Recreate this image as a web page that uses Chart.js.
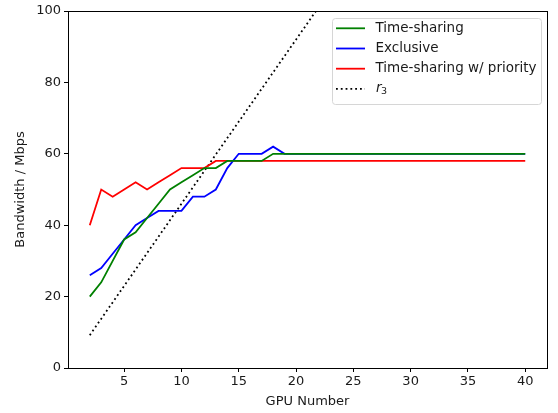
<!DOCTYPE html>
<html>
<head>
<meta charset="utf-8">
<script src="https://cdn.jsdelivr.net/npm/chart.js@4/dist/chart.umd.min.js"></script>
<style>
  html, body { margin: 0; padding: 0; background: #fff; }
</style>
</head>
<body>
<canvas id="grafico" width="558" height="413"></canvas>
<script>
  // dados
  const gpus = [2, 3, 4, 5, 6, 7, 8, 9, 10, 11, 12, 13, 14, 15, 16, 17, 18, 19, 20, 21,
    22, 23, 24, 25, 26, 27, 28, 29, 30, 31, 32, 33, 34, 35, 36, 37, 38, 39, 40];
  const timeSharing = [20, 24, 30, 36, 38, 42, 46, 50, 52, 54, 56, 56, 58, 58, 58, 58, 60, 60, 60, 60,
    60, 60, 60, 60, 60, 60, 60, 60, 60, 60, 60, 60, 60, 60, 60, 60, 60, 60, 60];
  const exclusive = [26, 28, 32, 36, 40, 42, 44, 44, 44, 48, 48, 50, 56, 60, 60, 60, 62, 60, 60, 60,
    60, 60, 60, 60, 60, 60, 60, 60, 60, 60, 60, 60, 60, 60, 60, 60, 60, 60, 60];
  const priority = [40, 50, 48, 50, 52, 50, 52, 54, 56, 56, 56, 58, 58, 58, 58, 58, 58, 58, 58, 58,
    58, 58, 58, 58, 58, 58, 58, 58, 58, 58, 58, 58, 58, 58, 58, 58, 58, 58, 58];
  // reta r3 (só os extremos, sai pelo topo)
  const r3X = [2, 22];
  const r3Y = [9.2, 101.2];

  const xTicks = [5, 10, 15, 20, 25, 30, 35, 40];
  const yTicks = [0, 20, 40, 60, 80, 100];

  const fonte = "DejaVu Sans";
  const tam = 13;

  function pares(xs, ys) {
    return xs.map((x, i) => ({ x: x, y: ys[i] }));
  }

  // moldura em volta da área do gráfico
  const moldura = {
    id: "moldura",
    afterDatasetsDraw(chart) {
      const a = chart.chartArea;
      const ctx = chart.ctx;
      ctx.save();
      ctx.strokeStyle = "#000";
      ctx.lineWidth = 1;
      ctx.strokeRect(Math.round(a.left) + 0.5, Math.round(a.top) + 0.5,
        Math.round(a.right - a.left), Math.round(a.bottom - a.top));
      ctx.restore();
    }
  };

  // legenda no estilo matplotlib
  const legenda = {
    id: "legenda",
    afterDraw(chart) {
      const ctx = chart.ctx;
      const x0 = 332, y0 = 18, w = 209, h = 86;
      const tamLeg = 13.5;
      ctx.save();
      ctx.fillStyle = "rgba(255,255,255,0.8)";
      ctx.strokeStyle = "#d6d6d6";
      ctx.lineWidth = 1;
      ctx.beginPath();
      ctx.roundRect(x0 + 0.5, y0 + 0.5, w, h, 3);
      ctx.fill();
      ctx.stroke();

      const itens = chart.data.datasets;
      ctx.font = tamLeg + "px '" + fonte + "'";
      ctx.textBaseline = "middle";
      itens.forEach((ds, i) => {
        const y = y0 + 10.3 + i * 20.2;
        ctx.strokeStyle = ds.borderColor;
        ctx.lineWidth = ds.borderWidth;
        ctx.setLineDash(ds.borderDash || []);
        ctx.beginPath();
        ctx.moveTo(336, y);
        ctx.lineTo(365, y);
        ctx.stroke();
        ctx.setLineDash([]);
        ctx.fillStyle = "#1a1a1a";
        if (ds.label === "r3") {
          ctx.font = "italic " + tamLeg + "px '" + fonte + "'";
          ctx.fillText("r", 376, y);
          ctx.font = "9.5px '" + fonte + "'";
          ctx.fillText("3", 381, y + 3);
          ctx.font = tamLeg + "px '" + fonte + "'";
        } else {
          ctx.fillText(ds.label, 375.5, y);
        }
      });
      ctx.restore();
    }
  };

  new Chart(document.getElementById("grafico"), {
    type: "line",
    data: {
      datasets: [
        { label: "Time-sharing", data: pares(gpus, timeSharing), borderColor: "#008000", borderWidth: 1.8 },
        { label: "Exclusive", data: pares(gpus, exclusive), borderColor: "#0000ff", borderWidth: 1.8 },
        { label: "Time-sharing w/ priority", data: pares(gpus, priority), borderColor: "#ff0000", borderWidth: 1.8 },
        { label: "r3", data: pares(r3X, r3Y), borderColor: "#000", borderWidth: 1.8, borderDash: [1.8, 3] }
      ]
    },
    options: {
      responsive: false,
      animation: false,
      layout: { padding: { top: 11, right: 11, left: 0, bottom: 0 } },
      elements: { point: { radius: 0 }, line: { tension: 0 } },
      plugins: { legend: { display: false }, tooltip: { enabled: false } },
      scales: {
        x: {
          type: "linear",
          min: 0.1,
          max: 41.9,
          afterBuildTicks: (s) => { s.ticks = xTicks.map(v => ({ value: v })); },
          afterFit: (s) => { s.height = 45; },
          grid: { drawOnChartArea: false, drawTicks: true, tickLength: 4, color: "#000" },
          border: { display: true, color: "#000" },
          ticks: { color: "#1a1a1a", padding: 2, maxRotation: 0, font: { family: fonte, size: tam } },
          title: { display: true, text: "GPU Number", color: "#1a1a1a", padding: { top: 1 }, font: { family: fonte, size: tam } }
        },
        y: {
          min: 0,
          max: 100,
          afterBuildTicks: (s) => { s.ticks = yTicks.map(v => ({ value: v })); },
          afterFit: (s) => { s.width = 68; },
          grid: { drawOnChartArea: false, drawTicks: true, tickLength: 4, color: "#000" },
          border: { display: true, color: "#000" },
          ticks: { color: "#1a1a1a", padding: 3, font: { family: fonte, size: tam } },
          title: { display: true, text: "Bandwidth / Mbps", color: "#1a1a1a", padding: { bottom: 0, top: 13 }, font: { family: fonte, size: tam } }
        }
      }
    },
    plugins: [moldura, legenda]
  });
</script>
</body>
</html>
